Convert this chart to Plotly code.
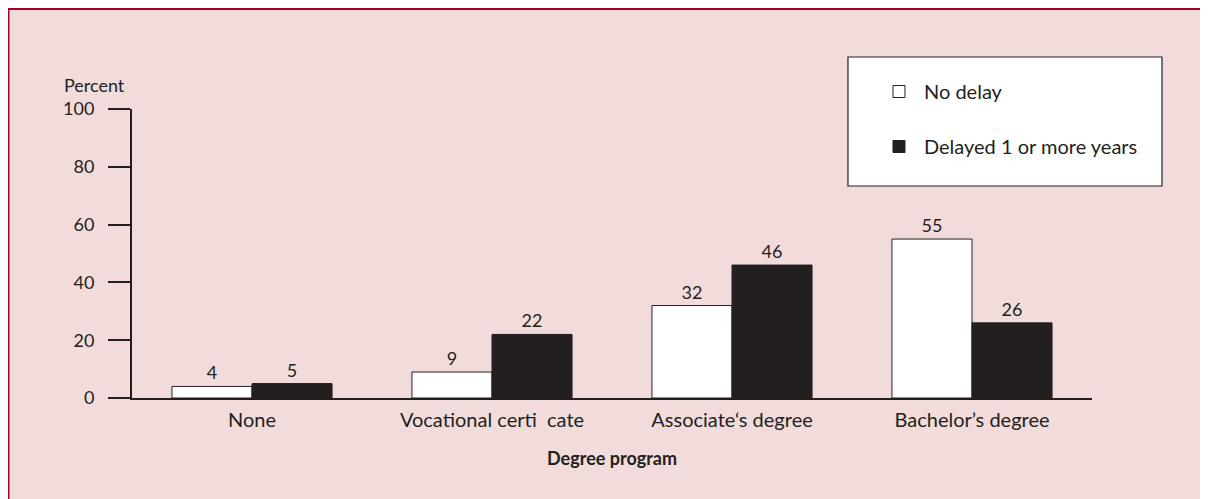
import plotly.graph_objects as go

categories = ["None", "Vocational certi  cate", "Associate‘s degree", "Bachelor’s degree"]
no_delay = [4, 9, 32, 55]
delayed = [5, 22, 46, 26]
series_names = ["No delay", "Delayed 1 or more years"]
y_ticks = [0, 20, 40, 60, 80, 100]

INK = "#231f20"
PINK = "#f1dcdb"
RED = "#a0002a"
FONT = "Lato"

fig = go.Figure()
fig.add_trace(go.Bar(
    x=categories, y=no_delay, name=series_names[0],
    marker=dict(color="white", line=dict(color=INK, width=1)),
    text=[str(v) for v in no_delay], textposition="outside",
    textfont=dict(color=INK, size=18, family=FONT), cliponaxis=False,
    legendgroup="a",
))
fig.add_trace(go.Bar(
    x=categories, y=delayed, name=series_names[1],
    marker=dict(color=INK, line=dict(color=INK, width=1)),
    text=[str(v) for v in delayed], textposition="outside",
    textfont=dict(color=INK, size=18, family=FONT), cliponaxis=False,
    legendgroup="b",
))

fig.update_layout(
    width=1200, height=491,
    margin=dict(l=124, r=116, t=101, b=101),
    paper_bgcolor=PINK,
    plot_bgcolor="rgba(0,0,0,0)",
    font=dict(family=FONT, size=18, color=INK),
    barmode="group", bargap=0.333, bargroupgap=0,
    showlegend=True,
    legend=dict(
        x=0.7729, y=1.128, xanchor="left", yanchor="top",
        bgcolor="rgba(0,0,0,0)", borderwidth=0,
        font=dict(size=20, color=INK, family=FONT),
        traceorder="grouped", tracegroupgap=26,
        itemwidth=40,
    ),
    xaxis=dict(
        type="category", range=[-0.5, 3.5],
        showline=True, linecolor=INK, linewidth=2,
        ticks="", showgrid=False, zeroline=False,
        tickfont=dict(size=20, color=INK),
        ticklabelstandoff=3,
        title=dict(text="<b>Degree program</b>", font=dict(size=18, color=INK), standoff=22),
        fixedrange=True,
    ),
    yaxis=dict(
        range=[0, 100], tickvals=y_ticks,
        showline=True, linecolor=INK, linewidth=2,
        ticks="outside", ticklen=22, tickwidth=2, tickcolor=INK,
        showgrid=False, zeroline=False,
        tickfont=dict(size=18, color=INK),
        ticklabelstandoff=10,
        fixedrange=True,
    ),
    shapes=[
        dict(type="line", xref="paper", yref="paper",
             x0=-0.1292, x1=1.2, y0=1.3495, y1=1.3495,
             line=dict(color=RED, width=4), layer="below"),
        dict(type="line", xref="paper", yref="paper",
             x0=-0.1292, x1=-0.1292, y0=-0.4, y1=1.3495,
             line=dict(color=RED, width=3), layer="below"),
        dict(type="rect", xref="paper", yref="paper",
             x0=0.7458, x1=1.0729, y0=0.7336, y1=1.18,
             fillcolor="white", line=dict(color=INK, width=1.2), layer="below"),
    ],
    annotations=[dict(
        text="Percent", xref="paper", yref="paper",
        x=-0.0725, y=1.083, xanchor="left", yanchor="middle",
        showarrow=False, font=dict(size=18, color=INK),
    )],
)

fig.write_html(
    "out.html",
    config={"displayModeBar": False},
    post_script=(
        "document.body.style.overflow='hidden';"
        "document.documentElement.style.overflow='hidden';"
    ),
)
